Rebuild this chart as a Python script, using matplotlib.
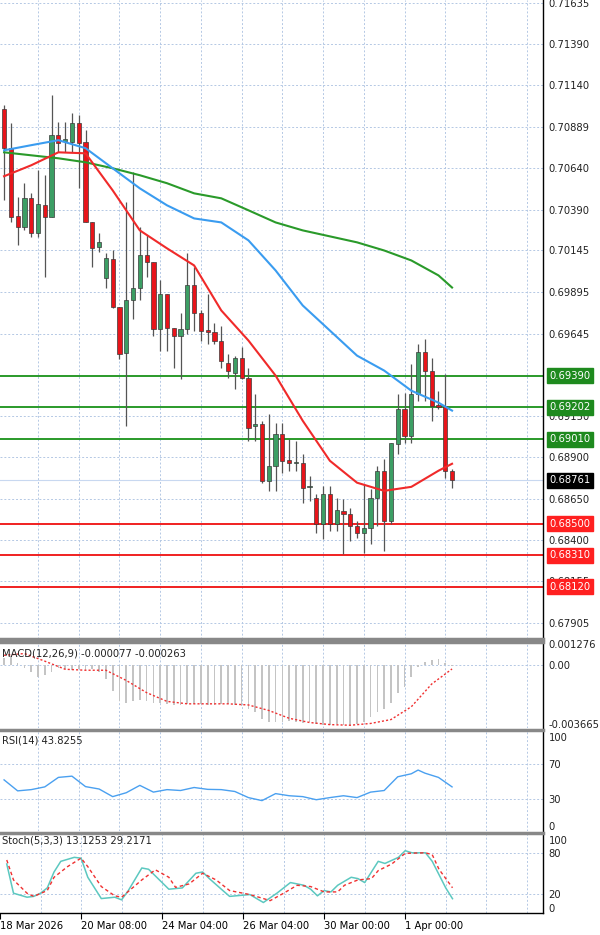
import numpy as np
import matplotlib
matplotlib.use("Agg")
import matplotlib.pyplot as plt
import matplotlib.transforms as mtrans

# ---- candles (H4)
opens = [0.70996, 0.70761, 0.70351, 0.70284, 0.70459, 0.70248, 0.70417, 0.70344, 0.70839, 0.70803,
         0.70797, 0.70911, 0.70797, 0.70314, 0.70164, 0.69977, 0.70091, 0.69802, 0.69530, 0.69844,
         0.69922, 0.70115, 0.70073, 0.69675, 0.69886, 0.69681, 0.69633, 0.69675, 0.69940, 0.69766,
         0.69669, 0.69657, 0.69603, 0.69470, 0.69410, 0.69500, 0.69380, 0.69090, 0.69102, 0.68759,
         0.68849, 0.69042, 0.68885, 0.68867, 0.68867, 0.68722, 0.68656, 0.68499, 0.68680, 0.68499,
         0.68578, 0.68560, 0.68487, 0.68445, 0.68475, 0.68656, 0.68819, 0.68517, 0.68982, 0.69193,
         0.69030, 0.69283, 0.69536, 0.69422, 0.69217, 0.69211, 0.68819]
highs = [0.71020, 0.70911, 0.70465, 0.70550, 0.70489, 0.70628, 0.70598, 0.71080, 0.70917, 0.70917,
         0.70972, 0.70960, 0.70869, 0.70314, 0.70248, 0.70127, 0.70145, 0.69802, 0.70435, 0.70616,
         0.70284, 0.70236, 0.70073, 0.69965, 0.69886, 0.69681, 0.69766, 0.70127, 0.70043, 0.69784,
         0.69886, 0.69711, 0.69693, 0.69524, 0.69512, 0.69561, 0.69440, 0.69283, 0.69120, 0.69163,
         0.69108, 0.69108, 0.69012, 0.69000, 0.68921, 0.68789, 0.68680, 0.68728, 0.68728, 0.68656,
         0.68650, 0.68596, 0.68517, 0.68741, 0.68710, 0.68849, 0.68891, 0.68988, 0.69283, 0.69289,
         0.69464, 0.69585, 0.69615, 0.69500, 0.69301, 0.69404, 0.68831]
lows = [0.70447, 0.70314, 0.70176, 0.70266, 0.70224, 0.70224, 0.69983, 0.70344, 0.70736, 0.70736,
        0.70736, 0.70519, 0.70314, 0.70043, 0.70133, 0.69922, 0.69796, 0.69494, 0.69090, 0.69735,
        0.69844, 0.69983, 0.69633, 0.69542, 0.69542, 0.69440, 0.69374, 0.69645, 0.69663, 0.69603,
        0.69585, 0.69585, 0.69440, 0.69380, 0.69313, 0.69374, 0.69000, 0.69000, 0.68747, 0.68698,
        0.68698, 0.68807, 0.68819, 0.68819, 0.68626, 0.68638, 0.68445, 0.68409, 0.68457, 0.68457,
        0.68318, 0.68397, 0.68415, 0.68324, 0.68379, 0.68487, 0.68336, 0.68499, 0.68921, 0.68988,
        0.68988, 0.69241, 0.69241, 0.69120, 0.69193, 0.68777, 0.68716]
closes = [0.70761, 0.70344, 0.70284, 0.70459, 0.70248, 0.70423, 0.70344, 0.70839, 0.70791, 0.70815,
          0.70911, 0.70791, 0.70314, 0.70158, 0.70194, 0.70097, 0.69802, 0.69524, 0.69844, 0.69922,
          0.70115, 0.70073, 0.69675, 0.69886, 0.69681, 0.69633, 0.69675, 0.69940, 0.69766, 0.69663,
          0.69657, 0.69603, 0.69482, 0.69422, 0.69500, 0.69380, 0.69078, 0.69102, 0.68759, 0.68849,
          0.69042, 0.68879, 0.68867, 0.68873, 0.68716, 0.68728, 0.68499, 0.68680, 0.68499, 0.68584,
          0.68560, 0.68487, 0.68445, 0.68475, 0.68656, 0.68819, 0.68517, 0.68988, 0.69193, 0.69030,
          0.69283, 0.69536, 0.69422, 0.69211, 0.69205, 0.68819, 0.68761]

# ---- moving averages, sampled every 4 bars
ma_idx = [0, 4, 8, 12, 16, 20, 24, 28, 32, 36, 40, 44, 48, 52, 56, 60, 64, 66]
ma_slow = [0.70736, 0.70718, 0.70700, 0.70676, 0.70640, 0.70598, 0.70550, 0.70489, 0.70459,
           0.70387, 0.70314, 0.70266, 0.70230, 0.70194, 0.70145, 0.70085, 0.69995, 0.69922]
ma_mid = [0.70748, 0.70779, 0.70809, 0.70761, 0.70640, 0.70519, 0.70417, 0.70338, 0.70314,
          0.70206, 0.70025, 0.69814, 0.69663, 0.69512, 0.69422, 0.69301, 0.69229, 0.69181]
ma_fast = [0.70592, 0.70658, 0.70736, 0.70730, 0.70507, 0.70266, 0.70158, 0.70055, 0.69784,
           0.69603, 0.69392, 0.69120, 0.68879, 0.68747, 0.68698, 0.68722, 0.68819, 0.68861]

res_levels = [0.69390, 0.69202, 0.69010]
sup_levels = [0.68500, 0.68310, 0.68120]
last_price = 0.68761
price_ticks = [0.71635, 0.71390, 0.71140, 0.70889, 0.70640, 0.70390, 0.70145, 0.69895,
               0.69645, 0.69150, 0.68900, 0.68650, 0.68400, 0.68155, 0.67905]

# ---- MACD
macd_hist = [0.00043, 0.00054, 0.00011, -0.00022, -0.00043, -0.00075, -0.00065, -0.00043, -0.00022,
             -0.00028, -0.00032, -0.00028, -0.00032, -0.00028, -0.00043, -0.00086, -0.00162, -0.00226,
             -0.00237, -0.00226, -0.00216, -0.00226, -0.00237, -0.00237, -0.00244, -0.00248, -0.00248,
             -0.00244, -0.00244, -0.00244, -0.00248, -0.00248, -0.00244, -0.00244, -0.00248, -0.00252,
             -0.00274, -0.00291, -0.00334, -0.00351, -0.00356, -0.00356, -0.00345, -0.00351, -0.00360,
             -0.00356, -0.00367, -0.00373, -0.00373, -0.00367, -0.00373, -0.00373, -0.00367, -0.00356,
             -0.00323, -0.00291, -0.00270, -0.00237, -0.00172, -0.00140, -0.00075, -0.00011, 0.00015,
             0.00028, 0.00037, 0.00011, -0.00008]
sig_idx = [0, 3, 6, 9, 12, 15, 18, 21, 24, 27, 30, 33, 36, 39, 42, 45, 48, 51, 54, 57, 60, 63, 66]
macd_sig = [0.00058, 0.00069, 0.00022, -0.00028, -0.00034, -0.00034, -0.00097, -0.00172, -0.00226,
            -0.00241, -0.00241, -0.00241, -0.00248, -0.00282, -0.00330, -0.00356, -0.00369, -0.00373,
            -0.00362, -0.00338, -0.00259, -0.00119, -0.00026]

# ---- RSI(14)
rsi_idx = list(range(0, 61, 2)) + [61, 62, 64, 66]
rsi = [51.7, 39.3, 40.7, 43.8, 54.5, 55.9, 44.1, 41.4, 32.8, 37.2, 45.5, 37.9, 40.7, 39.7, 43.1, 41.0,
       40.7, 38.6, 31.7, 28.3, 36.2, 33.8, 32.8, 29.3, 31.7, 33.8, 31.7, 37.9, 39.7, 55.2, 58.6,
       62.8, 59.3, 54.5, 43.8]

# ---- Stochastic(5,3,3)
k_idx = [0, 1, 3, 4, 5, 6, 7, 8, 10, 11, 12, 14, 16, 17, 18, 20, 21, 23, 24, 26, 28, 29, 30, 32,
         33, 36, 37, 38, 40, 42, 44, 45, 46, 47, 48, 49, 51, 52, 53, 55, 56, 58, 59, 60, 62, 63, 65, 66]
stoch_k = [64.3, 21.2, 15.3, 16.5, 21.2, 29.0, 52.5, 68.2, 74.1, 72.9, 44.7, 13.3, 15.3, 11.4, 25.1,
           58.4, 56.5, 36.9, 27.1, 29.0, 50.6, 52.5, 42.7, 25.1, 16.5, 19.2, 13.3, 7.5, 21.2, 36.9,
           32.9, 27.1, 17.3, 25.1, 23.1, 32.9, 44.7, 42.7, 36.9, 68.2, 65.1, 74.1, 83.9, 80.8, 80.8,
           68.2, 29.0, 13.1]
d_idx = [0, 1, 3, 4, 6, 7, 9, 11, 12, 14, 16, 17, 20, 22, 24, 25, 27, 29, 31, 33, 36, 38, 39, 41,
         43, 45, 47, 49, 50, 52, 54, 55, 57, 59, 62, 63, 64, 66]
stoch_d = [70.2, 40.8, 21.2, 16.5, 25.1, 44.7, 60.4, 72.9, 60.4, 31.0, 17.3, 15.3, 40.8, 55.7, 44.7,
           29.8, 34.9, 50.6, 40.8, 25.1, 19.2, 13.3, 10.2, 21.2, 32.9, 31.0, 23.1, 23.1, 32.9, 40.8,
           42.7, 54.5, 64.3, 80.0, 80.8, 78.0, 56.5, 29.2]

date_idx = [-1, 11, 23, 35, 47, 59]
date_lab = ["18 Mar 2026", "20 Mar 08:00", "24 Mar 04:00", "26 Mar 04:00", "30 Mar 00:00", "1 Apr 00:00"]

W, H = 600, 935
XL = (-0.6, 79.4)
GRID = dict(color="#b4c8e4", ls=(0, (2, 2)), lw=0.7)
FS = 7.2


def panel(top, bot):
    return fig.add_axes([0, 1 - bot / H, 543 / W, (bot - top) / H])


def style(ax):
    ax.set_xlim(*XL)
    ax.yaxis.tick_right()
    ax.tick_params(axis="y", length=0, labelsize=FS, pad=4, colors="#222222")
    ax.tick_params(axis="x", length=0, labelbottom=False)
    for s in ["left"]:
        ax.spines[s].set_visible(False)
    ax.spines["top"].set_color("#888888")
    ax.spines["top"].set_linewidth(2.5)
    ax.spines["right"].set_linewidth(1.0)
    ax.spines["bottom"].set_visible(False)
    for g in range(5, 80, 6):
        ax.axvline(g, zorder=0, **GRID)


fig = plt.figure(figsize=(W / 100, H / 100), dpi=100)
fig.patch.set_facecolor("white")

# ---------------------------------------------------------------- main
ax = panel(0, 639)
style(ax)
ax.spines["top"].set_visible(False)
ax.spines["bottom"].set_visible(True)
ax.spines["bottom"].set_color("#888888")
ax.spines["bottom"].set_linewidth(2.5)
ax.set_ylim(0.67806, 0.71653)
ax.set_yticks(price_ticks)
ax.set_yticklabels([f"{t:.5f}" for t in price_ticks])
for t in price_ticks:
    ax.axhline(t, zorder=0, **GRID)

x = np.arange(len(opens))
o, h, l, c = map(np.array, (opens, highs, lows, closes))
up = c >= o
ax.vlines(x, l, h, color="#555555", lw=0.9, zorder=2)
body_lo = np.minimum(o, c)
body_h = np.maximum(np.abs(c - o), 0.00003)
ax.bar(x, body_h, bottom=body_lo, width=0.62,
       color=np.where(up, "#3c9e64", "#e8141a"), edgecolor="#3a3a3a", lw=0.5, zorder=3)

ax.plot(ma_idx, ma_slow, color="#2a9a2a", lw=1.5, zorder=4)
ax.plot(ma_idx, ma_mid, color="#3a9cf0", lw=1.5, zorder=4)
ax.plot(ma_idx, ma_fast, color="#f02a2a", lw=1.5, zorder=4)

tr = mtrans.blended_transform_factory(ax.transAxes, ax.transData)
for lv in res_levels:
    ax.axhline(lv, color="#2a9a2a", lw=1.4, zorder=1)
    ax.text(1.012, lv, f"{lv:.5f}", transform=tr, va="center", ha="left", fontsize=FS,
            color="white", bbox=dict(boxstyle="square,pad=0.25", fc="#1e8a1e", ec="#1e8a1e"))
for lv in sup_levels:
    ax.axhline(lv, color="#f02020", lw=1.4, zorder=1)
    ax.text(1.012, lv, f"{lv:.5f}", transform=tr, va="center", ha="left", fontsize=FS,
            color="white", bbox=dict(boxstyle="square,pad=0.25", fc="#ff2020", ec="#ff2020"))
ax.axhline(last_price, color="#c8d8f0", lw=0.8, zorder=1)
ax.text(1.012, last_price, f"{last_price:.5f}", transform=tr, va="center", ha="left", fontsize=FS,
        color="white", bbox=dict(boxstyle="square,pad=0.25", fc="black", ec="black"))

# ---------------------------------------------------------------- MACD
am = panel(642, 728)
style(am)
am.set_ylim(-0.0039, 0.0014)
am.set_yticks([0.001276, 0.0, -0.003665])
am.set_yticklabels(["0.001276", "0.00", "-0.003665"])
am.axhline(0, zorder=0, **GRID)
am.bar(np.arange(len(macd_hist)), macd_hist, width=0.25, color="#c4c4c4", zorder=2)
am.plot(sig_idx, macd_sig, color="#f03030", lw=1.0, ls=(0, (1.5, 1.5)), zorder=3)
am.text(0.003, 0.93, "MACD(12,26,9) -0.000077 -0.000263", transform=am.transAxes,
        va="top", fontsize=FS, color="#222222")

# ---------------------------------------------------------------- RSI
ar = panel(730, 831)
style(ar)
ar.set_ylim(-6, 108)
ar.set_yticks([100, 70, 30, 0])
for t in (70, 30):
    ar.axhline(t, zorder=0, **GRID)
ar.plot(rsi_idx, rsi, color="#4aa0f0", lw=1.0)
ar.text(0.003, 0.95, "RSI(14) 43.8255", transform=ar.transAxes, va="top", fontsize=FS,
        color="#222222")

# ---------------------------------------------------------------- Stoch
ast = panel(833, 913)
style(ast)
ast.spines["bottom"].set_visible(True)
ast.spines["bottom"].set_linewidth(1.0)
ast.set_ylim(-8, 110)
ast.set_yticks([100, 80, 20, 0])
for t in (80, 20):
    ast.axhline(t, zorder=0, **GRID)
ast.plot(k_idx, stoch_k, color="#5cc8c0", lw=1.1)
ast.plot(d_idx, stoch_d, color="#f03030", lw=1.0, ls=(0, (2.5, 2)))
ast.text(0.003, 0.97, "Stoch(5,3,3) 13.1253 29.2171", transform=ast.transAxes, va="top",
         fontsize=FS, color="#222222")
ast.set_xticks(date_idx)
ast.set_xticklabels(date_lab, fontsize=FS, ha="left")
ast.tick_params(axis="x", labelbottom=True, length=4, pad=2, direction="out")

fig.savefig("out.png", dpi=100, facecolor="white")
